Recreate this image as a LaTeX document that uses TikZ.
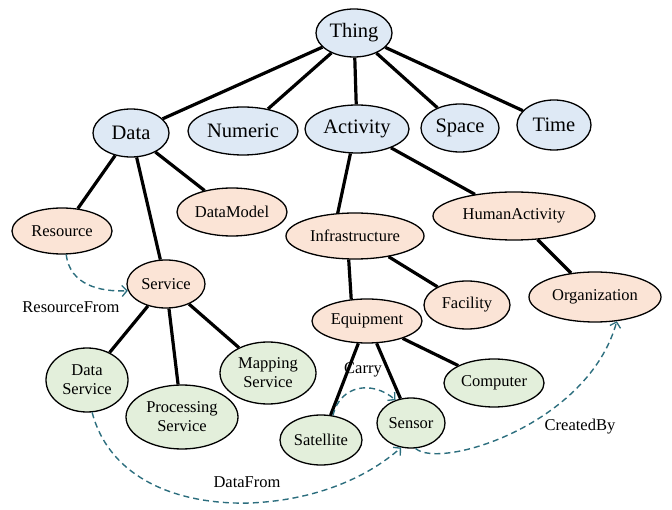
\documentclass[tikz,border=0pt]{standalone}
\usepackage{fontspec}
\setmainfont{Liberation Serif}
\usetikzlibrary{shapes.geometric,arrows.meta}
\definecolor{bluefill}{HTML}{DEE9F5}
\definecolor{orangefill}{HTML}{FBE4D6}
\definecolor{greenfill}{HTML}{E3EFDB}
\definecolor{teal}{HTML}{2C6E7E}
\tikzset{
  base/.style={ellipse, draw=black, line width=1.3pt, inner sep=0pt, align=center},
  top/.style={base, fill=bluefill, font=\fontsize{20.5}{24}\selectfont},
  mid/.style={base, fill=orangefill, font=\fontsize{16.5}{19}\selectfont},
  leaf/.style={base, fill=greenfill, font=\fontsize{16.5}{19}\selectfont},
  tree/.style={line width=3.2pt, black},
  rel/.style={teal, line width=1.4pt, dash pattern=on 6pt off 4pt, -{Straight Barb[length=5pt,width=11pt,line width=1.3pt]}},
  lbl/.style={font=\fontsize{16.5}{19}\selectfont, inner sep=0pt}
}
\begin{document}
\begin{tikzpicture}[x=1pt,y=-1pt]
\useasboundingbox (0,0) rectangle (672,510);
% level 0
\node[top, minimum width=76pt, minimum height=48pt] (thing) at (354,33) {Thing};
% level 1
\node[top, minimum width=76pt, minimum height=48pt] (data) at (131,133) {Data};
\node[top, minimum width=110pt, minimum height=48pt] (numeric) at (243,131) {Numeric};
\node[top, minimum width=104pt, minimum height=48pt] (activity) at (357,129) {Activity};
\node[top, minimum width=78pt, minimum height=48pt] (space) at (460,128) {Space};
\node[top, minimum width=74pt, minimum height=50pt] (time) at (554,125) {Time};
% level 2
\node[mid, minimum width=100pt, minimum height=46pt] (resource) at (62,231) {Resource};
\node[mid, minimum width=110pt, minimum height=48pt] (datamodel) at (232,212) {DataModel};
\node[mid, minimum width=138pt, minimum height=46pt] (infra) at (355,236) {Infrastructure};
\node[mid, minimum width=162pt, minimum height=48pt] (human) at (514,216) {HumanActivity};
\node[mid, minimum width=78pt, minimum height=48pt] (service) at (166,284) {Service};
\node[mid, minimum width=110pt, minimum height=44pt] (equip) at (367,321) {Equipment};
\node[mid, minimum width=86pt, minimum height=48pt] (facility) at (467,305) {Facility};
\node[mid, minimum width=132pt, minimum height=50pt] (org) at (595,297) {Organization};
% leaves
\node[leaf, minimum width=82pt, minimum height=64pt] (dataserv) at (87,380) {Data\\Service};
\node[leaf, minimum width=112pt, minimum height=64pt] (procserv) at (182,417) {Processing\\Service};
\node[leaf, minimum width=96pt, minimum height=62pt] (mapserv) at (268,373) {Mapping\\Service};
\node[leaf, minimum width=100pt, minimum height=48pt] (computer) at (494,383) {Computer};
\node[leaf, minimum width=68pt, minimum height=50pt] (sensor) at (411,423) {Sensor};
\node[leaf, minimum width=82pt, minimum height=50pt] (satellite) at (321,440) {Satellite};
% tree edges
\draw[tree] (thing) -- (data);
\draw[tree] (thing) -- (numeric);
\draw[tree] (thing) -- (activity);
\draw[tree] (thing) -- (space);
\draw[tree] (thing) -- (time);
\draw[tree] (data) -- (resource);
\draw[tree] (data) -- (service);
\draw[tree] (data) -- (datamodel);
\draw[tree] (activity.-105) -- (infra.127);
\draw[tree] (activity) -- (human);
\draw[tree] (infra.-105) -- (equip.126);
\draw[tree] (infra) -- (facility);
\draw[tree] (human) -- (org);
\draw[tree] (service) -- (dataserv);
\draw[tree] (service) -- (procserv);
\draw[tree] (service) -- (mapserv);
\draw[tree] (equip) -- (satellite);
\draw[tree] (equip) -- (sensor);
\draw[tree] (equip) -- (computer);
% relations
\draw[rel] (resource.-80) .. controls (70,285) and (100,292) .. (service.190);
\draw[rel] (satellite.64) .. controls (340,385) and (372,380) .. (sensor.124);
\draw[rel] (dataserv.-81) .. controls (110,480) and (180,505) .. (250,503) .. controls (320,500) and (370,475) .. (sensor.-112);
\draw[rel] (sensor.-80) .. controls (440,470) and (588,425) .. (org.-48);
% labels
\node[lbl] (lres) at (71,307) {ResourceFrom};
\node[lbl] (lcarry) at (363,370) {Carry};
\node[lbl] (ldata) at (247,482) {DataFrom};
\node[lbl] (lcreated) at (580,427) {CreatedBy};
\end{tikzpicture}
\end{document}
